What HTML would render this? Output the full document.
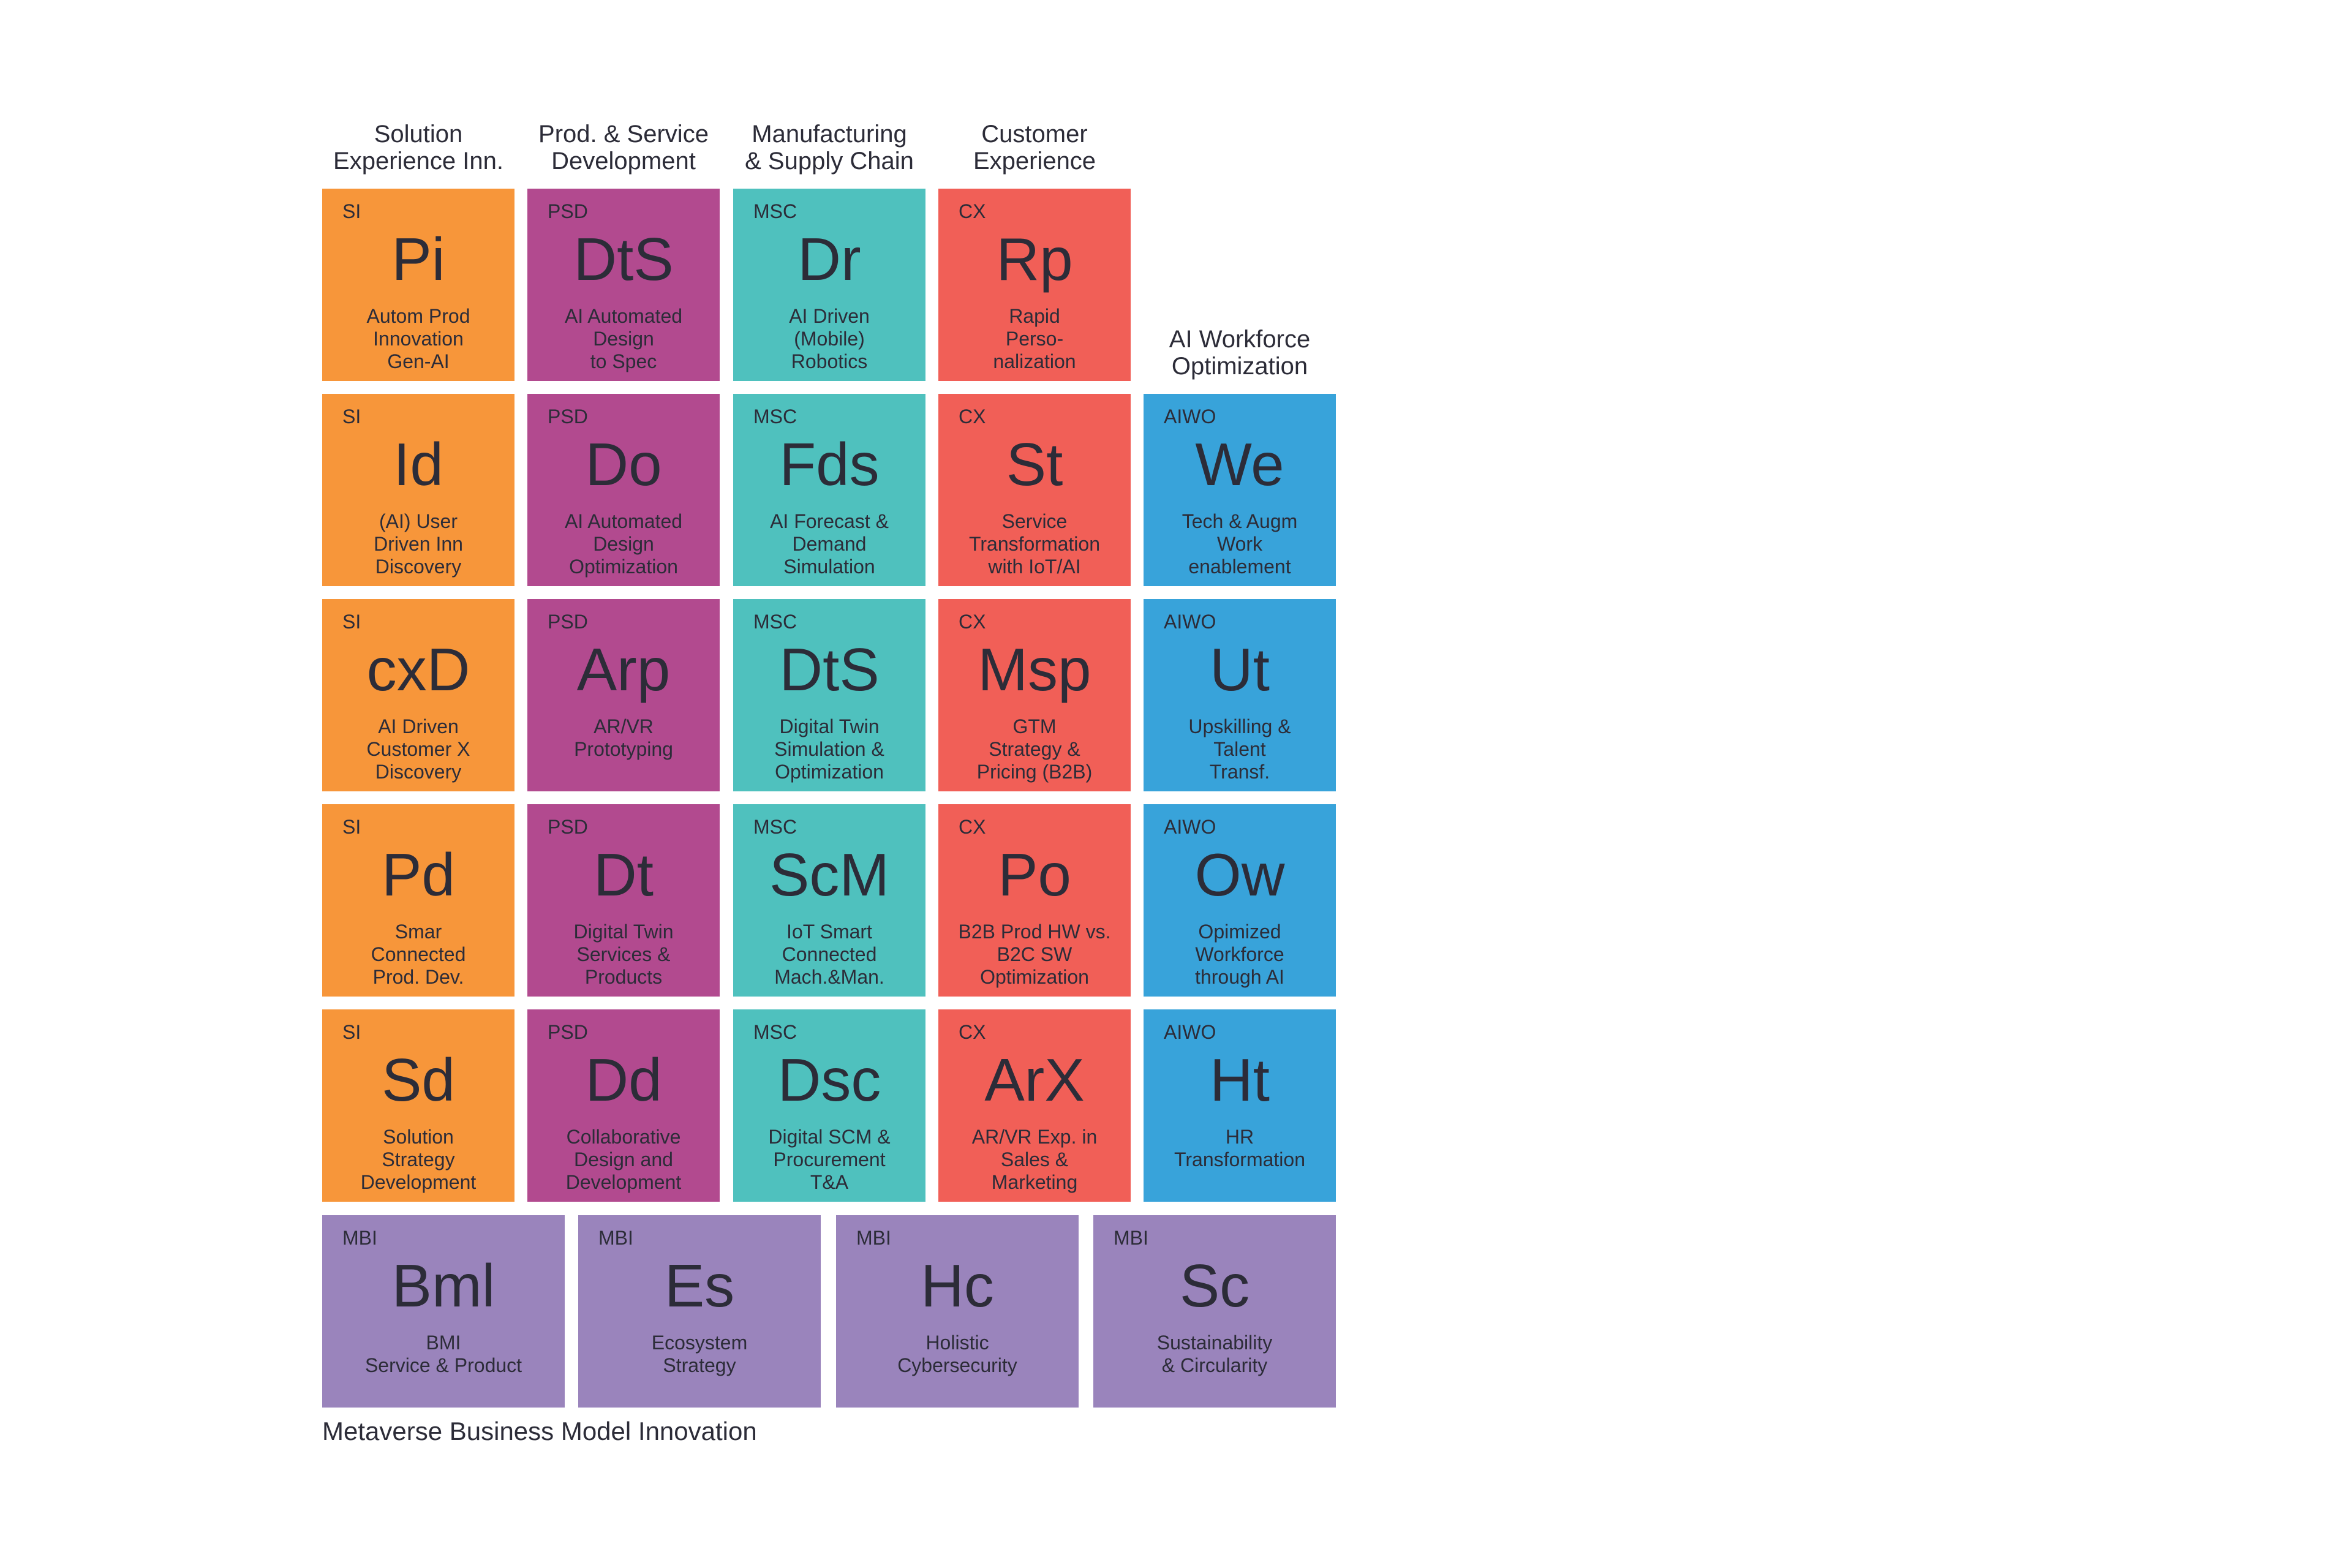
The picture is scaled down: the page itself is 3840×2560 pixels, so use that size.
<!DOCTYPE html>
<html><head><meta charset="utf-8"><style>
html,body{margin:0;padding:0;background:#fff}
#root{position:relative;width:3840px;height:2560px;overflow:hidden;font-family:"Liberation Sans",sans-serif;color:#2c2c38}
.tile{position:absolute;height:314px}
.lab{position:absolute;left:33px;top:19px;font-size:32px;line-height:37px}
.sym{position:absolute;left:0;right:0;top:66px;text-align:center;font-size:98px;line-height:98px}
.desc{position:absolute;left:0;right:0;top:190px;text-align:center;font-size:32px;line-height:37px}
.hdr{position:absolute;width:314px;text-align:center;font-size:40px;line-height:44px}
</style></head><body>
<div id="root"></div>
<script>
const colX=[526,861,1197,1532,1867];
const rowY=[308,643,978,1313,1648];
const colColors=['#f7963a','#b24a8f','#4fc1be','#f15f57','#38a3da'];
const colCodes=['SI','PSD','MSC','CX','AIWO'];
const headers=[['Solution','Experience Inn.'],['Prod. & Service','Development'],['Manufacturing','& Supply Chain'],['Customer','Experience'],['AI Workforce','Optimization']];
const tiles=[
[0,0,'Pi','Autom Prod<br>Innovation<br>Gen-AI'],[1,0,'DtS','AI Automated<br>Design<br>to Spec'],[2,0,'Dr','AI Driven<br>(Mobile)<br>Robotics'],[3,0,'Rp','Rapid<br>Perso-<br>nalization'],
[0,1,'Id','(AI) User<br>Driven Inn<br>Discovery'],[1,1,'Do','AI Automated<br>Design<br>Optimization'],[2,1,'Fds','AI Forecast &amp;<br>Demand<br>Simulation'],[3,1,'St','Service<br>Transformation<br>with IoT/AI'],[4,1,'We','Tech &amp; Augm<br>Work<br>enablement'],
[0,2,'cxD','AI Driven<br>Customer X<br>Discovery'],[1,2,'Arp','AR/VR<br>Prototyping'],[2,2,'DtS','Digital Twin<br>Simulation &amp;<br>Optimization'],[3,2,'Msp','GTM<br>Strategy &amp;<br>Pricing (B2B)'],[4,2,'Ut','Upskilling &amp;<br>Talent<br>Transf.'],
[0,3,'Pd','Smar<br>Connected<br>Prod. Dev.'],[1,3,'Dt','Digital Twin<br>Services &amp;<br>Products'],[2,3,'ScM','IoT Smart<br>Connected<br>Mach.&amp;Man.'],[3,3,'Po','B2B Prod HW vs.<br>B2C SW<br>Optimization'],[4,3,'Ow','Opimized<br>Workforce<br>through AI'],
[0,4,'Sd','Solution<br>Strategy<br>Development'],[1,4,'Dd','Collaborative<br>Design and<br>Development'],[2,4,'Dsc','Digital SCM &amp;<br>Procurement<br>T&amp;A'],[3,4,'ArX','AR/VR Exp. in<br>Sales &amp;<br>Marketing'],[4,4,'Ht','HR<br>Transformation']
];
const mbiX=[526,944,1365,1785];
const mbi=[['Bml','BMI<br>Service &amp; Product'],['Es','Ecosystem<br>Strategy'],['Hc','Holistic<br>Cybersecurity'],['Sc','Sustainability<br>&amp; Circularity']];
const root=document.getElementById('root');
function mk(x,y,w,color,code,sym,desc){
  const t=document.createElement('div');
  t.className='tile';
  
  
  t.style.cssText='left:'+x+'px;top:'+y+'px;width:'+w+'px;background:'+color;
  t.innerHTML='<div class="lab">'+code+'</div><div class="sym">'+sym+'</div><div class="desc">'+desc+'</div>';
  root.appendChild(t);
}
tiles.forEach(d=>mk(colX[d[0]],rowY[d[1]],314,colColors[d[0]],colCodes[d[0]],d[2],d[3]));
mbi.forEach((d,i)=>mk(mbiX[i],1984,396,'#9a84bc','MBI',d[0],d[1]));
headers.forEach((h,i)=>{
  const e=document.createElement('div');
  e.className='hdr';
  
  
  e.style.left=colX[i]+'px';
  e.style.top=(i==4?532:197)+'px';
  e.innerHTML=h.join('<br>');
  root.appendChild(e);
});
const f=document.createElement('div');


f.style.cssText='position:absolute;left:526px;top:2316px;font-size:42px;line-height:42px;white-space:nowrap';
f.textContent='Metaverse Business Model Innovation';
root.appendChild(f);
</script>
</body></html>
